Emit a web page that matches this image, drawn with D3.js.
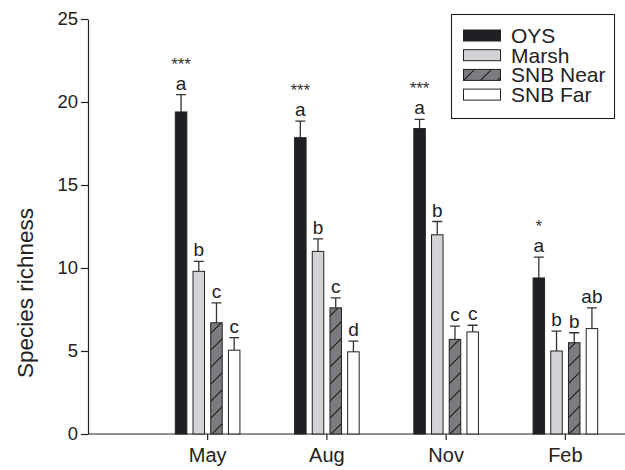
<!DOCTYPE html>
<html>
<head>
<meta charset="utf-8">
<script src="https://cdn.jsdelivr.net/npm/d3@7"></script>
<style>
  body { margin: 0; background: #fff; }
  svg { display: block; font-family: "Liberation Sans", Arial, Helvetica, sans-serif; }
</style>
</head>
<body>
<svg id="canvas" width="625" height="470"></svg>
<script>
// months along the x axis and the four sites
const months = ['May', 'Aug', 'Nov', 'Feb']
const sites = ['OYS', 'Marsh', 'SNB Near', 'SNB Far']

// mean species richness, one array per site (May, Aug, Nov, Feb)
const oys = [19.4, 17.85, 18.4, 9.4]
const marsh = [9.8, 11.0, 12.0, 5.0]
const snbNear = [6.7, 7.6, 5.7, 5.5]
const snbFar = [5.05, 4.95, 6.15, 6.35]

// standard error (upper whisker length)
const oysErr = [1.05, 1.0, 0.55, 1.25]
const marshErr = [0.6, 0.75, 0.8, 1.2]
const snbNearErr = [1.2, 0.6, 0.8, 0.6]
const snbFarErr = [0.75, 0.65, 0.4, 1.25]

// post-hoc letters and significance stars
const oysLetters = ['a', 'a', 'a', 'a']
const marshLetters = ['b', 'b', 'b', 'b']
const snbNearLetters = ['c', 'c', 'c', 'b']
const snbFarLetters = ['c', 'd', 'c', 'ab']
const stars = ['***', '***', '***', '*']

const yTicks = [0, 5, 10, 15, 20, 25]

const series = [
    { name: sites[0], values: oys, err: oysErr, letters: oysLetters, fill: '#1f2023' },
    { name: sites[1], values: marsh, err: marshErr, letters: marshLetters, fill: '#d1d3d6' },
    { name: sites[2], values: snbNear, err: snbNearErr, letters: snbNearLetters, fill: 'url(#hatch)' },
    { name: sites[3], values: snbFar, err: snbFarErr, letters: snbFarLetters, fill: '#ffffff' }
]

const ink = '#222'
const svg = d3.select('#canvas')

// hatch pattern for SNB Near
const pat = svg.append('defs').append('pattern')
    .attr('id', 'hatch')
    .attr('patternUnits', 'userSpaceOnUse')
    .attr('width', 17).attr('height', 17)
pat.append('rect').attr('width', 17).attr('height', 17).attr('fill', '#7b7b80')
pat.append('path')
    .attr('d', 'M-2,2 L2,-2 M0,17 L17,0 M15,19 L19,15')
    .attr('stroke', '#1a1a1a').attr('stroke-width', 1.1)

const x0 = 88
const y = d3.scaleLinear().domain([0, 25]).range([434, 19])
const x = d3.scaleBand().domain(months).range([148, 625])
const xs = d3.scaleBand().domain(sites).range([-35.4, 35.4])
    .paddingInner(0.35).paddingOuter(0.175)

// y axis
const yAxis = svg.append('g')
    .attr('transform', `translate(${x0},0)`)
    .call(d3.axisLeft(y).tickValues(yTicks).tickSize(7).tickPadding(3).tickSizeOuter(0))
yAxis.selectAll('path, line').attr('stroke', ink).attr('stroke-width', 1.2)
yAxis.selectAll('text').attr('font-size', 18.5).attr('fill', ink).attr('font-family', null)
yAxis.attr('font-family', null).attr('font-size', null)

// x axis
svg.append('line')
    .attr('x1', x0).attr('x2', 625)
    .attr('y1', y(0)).attr('y2', y(0))
    .attr('stroke', ink).attr('stroke-width', 1.2)
const xAxis = svg.append('g')
    .attr('transform', `translate(0,${y(0)})`)
    .call(d3.axisBottom(x).tickSize(6).tickPadding(8).tickSizeOuter(0))
xAxis.select('.domain').remove()
xAxis.selectAll('line').attr('stroke', ink).attr('stroke-width', 1.2)
xAxis.selectAll('text').attr('font-size', 20).attr('fill', ink).attr('font-family', null)
xAxis.attr('font-family', null).attr('font-size', null)

// y label
svg.append('text')
    .attr('transform', 'translate(33,293) rotate(-90)')
    .attr('text-anchor', 'middle')
    .attr('font-size', 22.5)
    .attr('fill', ink)
    .text('Species richness')

// bars
const bw = xs.bandwidth()
series.forEach(s => {
    const g = svg.append('g')
    const cx = (i) => x(months[i]) + x.bandwidth() / 2 + xs(s.name) + bw / 2
    const rows = s.values.map((v, i) => ({ v, e: s.err[i], l: s.letters[i], i }))

    g.selectAll('rect').data(rows).enter().append('rect')
        .attr('x', d => cx(d.i) - bw / 2)
        .attr('y', d => y(d.v))
        .attr('width', bw)
        .attr('height', d => y(0) - y(d.v))
        .attr('fill', s.fill)
        .attr('stroke', ink)
        .attr('stroke-width', 1)

    // whiskers
    g.selectAll('path.err').data(rows).enter().append('path')
        .attr('class', 'err')
        .attr('d', d => `M${cx(d.i)},${y(d.v)}V${y(d.v + d.e)}M${cx(d.i) - 5},${y(d.v + d.e)}H${cx(d.i) + 5}`)
        .attr('fill', 'none')
        .attr('stroke', '#333')
        .attr('stroke-width', 1.3)

    // letters
    g.selectAll('text.lt').data(rows).enter().append('text')
        .attr('class', 'lt')
        .attr('x', d => cx(d.i))
        .attr('y', d => y(d.v + d.e) - 5)
        .attr('text-anchor', 'middle')
        .attr('font-size', 19)
        .attr('fill', ink)
        .text(d => d.l)

    if (s.name === 'OYS') {
        g.selectAll('text.st').data(rows).enter().append('text')
            .attr('class', 'st')
            .attr('x', d => cx(d.i))
            .attr('y', d => y(d.v + d.e) - 25)
            .attr('text-anchor', 'middle')
            .attr('font-size', 17)
            .attr('fill', '#333')
            .text(d => stars[d.i])
    }
})

// legend
const leg = svg.append('g')
leg.append('rect')
    .attr('x', 451.5).attr('y', 14.5)
    .attr('width', 163).attr('height', 104)
    .attr('fill', '#fff').attr('stroke', ink).attr('stroke-width', 1.1)
series.forEach((s, i) => {
    const cy = 35.5 + i * 19.7
    leg.append('rect')
        .attr('x', 463.5).attr('y', cy - 5.5)
        .attr('width', 37).attr('height', 11)
        .attr('fill', s.fill).attr('stroke', ink).attr('stroke-width', 1)
    leg.append('text')
        .attr('x', 511).attr('y', cy + 7.5)
        .attr('font-size', 21)
        .attr('fill', ink)
        .text(s.name)
})
</script>
</body>
</html>
